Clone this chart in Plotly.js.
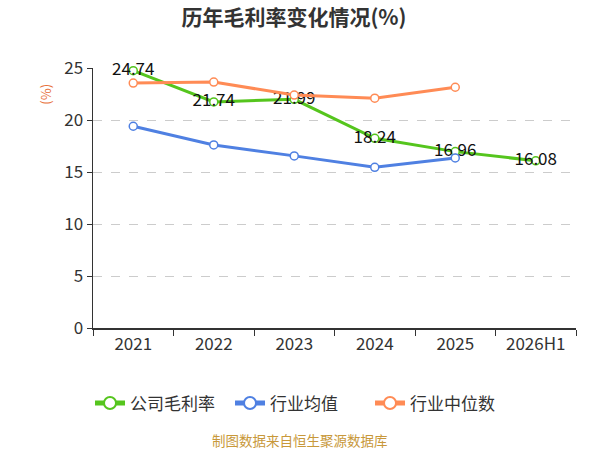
<!DOCTYPE html>
<html>
<head>
<meta charset="utf-8">
<script src="https://cdn.plot.ly/plotly-3.0.1.min.js"></script>
<style>
  html, body { margin: 0; padding: 0; background: #fff; }
  #chart { width: 600px; height: 450px; }
</style>
</head>
<body>
<div id="chart"></div>
<script>
// kategorie (lata)
const years = ["2021", "2022", "2023", "2024", "2025", "2026H1"];

// serie
const gongsi = [24.74, 21.74, 21.99, 18.24, 16.96, 16.08];      // 公司毛利率
const hangyeAvg = [19.4, 17.6, 16.55, 15.45, 16.35, null];      // 行业均值
const hangyeMid = [23.55, 23.65, 22.4, 22.1, 23.15, null];      // 行业中位数

const yTicks = [0, 5, 10, 15, 20, 25];

const fontCN = '"Noto Sans CJK SC", "Noto Sans", sans-serif';

function seria(name, values, color, withText){
    let tr = {
        type: "scatter",
        mode: withText ? "lines+markers+text" : "lines+markers",
        name: name,
        x: years,
        y: values,
        line: {color: color, width: 3},
        marker: {symbol: "circle", size: 8, color: "#ffffff", line: {color: color, width: 1.5}},
        cliponaxis: false
    };
    if(withText){
        tr.text = values.map(v => v.toFixed(2));
        tr.textposition = "middle center";
        tr.textfont = {size: 17, color: "#111111", family: fontCN};
    }
    return tr;
}

// kolejność rysowania: pomarańczowa nad zieloną
let data = [
    seria("公司毛利率", gongsi, "#55c51d", true),
    seria("行业均值", hangyeAvg, "#4f80e2", false),
    seria("行业中位数", hangyeMid, "#ff8b55", false)
];

let layout = {
    width: 600,
    height: 450,
    margin: {l: 93, r: 24, t: 68, b: 122},
    paper_bgcolor: "#ffffff",
    plot_bgcolor: "#ffffff",
    font: {family: fontCN, color: "#333333", size: 16},
    title: {
        text: "<b>历年毛利率变化情况(%)</b>",
        font: {size: 21, color: "#333333", family: fontCN},
        x: 0.49,
        xanchor: "center",
        y: 0.96,
        yanchor: "middle"
    },
    xaxis: {
        type: "category",
        range: [-0.5, 5.5],
        showline: true,
        linecolor: "#333333",
        linewidth: 1.5,
        ticks: "outside",
        tickson: "boundaries",
        ticklen: 6,
        tickcolor: "#333333",
        showgrid: false,
        tickfont: {size: 17, color: "#333333"}
    },
    yaxis: {
        range: [0, 25],
        tickvals: yTicks,
        showline: true,
        linecolor: "#333333",
        linewidth: 1.5,
        ticks: "outside",
        ticklen: 5,
        tickcolor: "#333333",
        showgrid: true,
        gridcolor: "#cccccc",
        griddash: "dash",
        zeroline: false,
        tickfont: {size: 17, color: "#333333"}
    },
    showlegend: true,
    legend: {
        orientation: "h",
        x: 0.4286,
        xanchor: "center",
        y: -0.29,
        yanchor: "middle",
        font: {size: 17, color: "#333333"},
        itemsizing: "constant",
        entrywidth: 95,
        traceorder: "normal"
    },
    annotations: [
        {
            text: "(%)",
            xref: "paper", yref: "paper",
            x: -0.1, y: 0.9,
            xanchor: "center", yanchor: "middle",
            textangle: -90,
            showarrow: false,
            font: {size: 13, color: "#e8703a"}
        },
        {
            text: "制图数据来自恒生聚源数据库",
            xref: "paper", yref: "paper",
            x: 0.4286, y: -0.43,
            xanchor: "center", yanchor: "middle",
            showarrow: false,
            font: {size: 13.5, color: "#c8983a"}
        }
    ]
};

Plotly.newPlot("chart", data, layout, {displayModeBar: false, staticPlot: true});
</script>
</body>
</html>
